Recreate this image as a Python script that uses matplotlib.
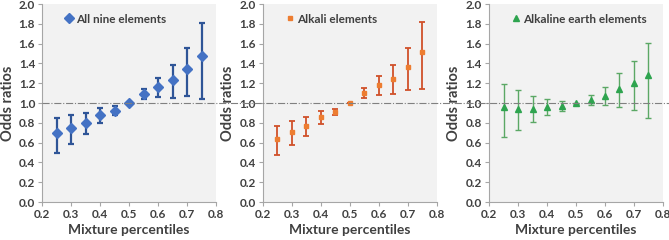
import matplotlib.pyplot as plt
from matplotlib.lines import Line2D
from matplotlib.transforms import blended_transform_factory

plt.rcParams['font.family'] = ['Lato', 'DejaVu Sans']

percentiles = [0.25, 0.30, 0.35, 0.40, 0.45, 0.50, 0.55, 0.60, 0.65, 0.70, 0.75]

# odds ratio, upper CI, lower CI
all_or = [0.70, 0.75, 0.80, 0.88, 0.92, 1.00, 1.09, 1.16, 1.23, 1.34, 1.48]
all_hi = [0.85, 0.88, 0.90, 0.95, 0.97, 1.00, 1.14, 1.25, 1.38, 1.56, 1.81]
all_lo = [0.50, 0.59, 0.69, 0.80, 0.88, 1.00, 1.04, 1.06, 1.05, 1.07, 1.04]

alk_or = [0.64, 0.71, 0.77, 0.86, 0.91, 1.00, 1.10, 1.18, 1.24, 1.36, 1.52]
alk_hi = [0.77, 0.82, 0.86, 0.92, 0.94, 1.00, 1.15, 1.27, 1.38, 1.56, 1.82]
alk_lo = [0.48, 0.58, 0.67, 0.79, 0.88, 1.00, 1.05, 1.08, 1.09, 1.13, 1.14]

ear_or = [0.96, 0.94, 0.94, 0.96, 0.97, 1.00, 1.03, 1.07, 1.14, 1.20, 1.28]
ear_hi = [1.19, 1.13, 1.07, 1.04, 1.02, 1.00, 1.08, 1.16, 1.30, 1.43, 1.61]
ear_lo = [0.66, 0.73, 0.81, 0.88, 0.92, 0.99, 0.98, 0.98, 0.96, 0.93, 0.85]

panels = [
    ("All nine elements", all_or, all_hi, all_lo, "D", 5, "#4472C4", "#2F5597", 1.6),
    ("Alkali elements", alk_or, alk_hi, alk_lo, "s", 3.5, "#ED7D31", "#D0512A", 1.3),
    ("Alkaline earth elements", ear_or, ear_hi, ear_lo, "^", 4.5, "#2EA44F", "#5BA865", 1.0),
]
lefts = [0.063, 0.393, 0.731]
width = 0.260
bottom, top = 0.158, 0.983

fig = plt.figure(figsize=(6.69, 2.4), dpi=100)
axes = []
for (label, val, hi, lo, mk, ms, mc, ec, lw), left in zip(panels, lefts):
    ax = fig.add_axes([left, bottom, width, top - bottom])
    axes.append(ax)
    ax.set_facecolor("#F2F2F2")
    yerr = [[v - l for v, l in zip(val, lo)], [h - v for v, h in zip(val, hi)]]
    ax.errorbar(percentiles, val, yerr=yerr, fmt="none", ecolor=ec,
                elinewidth=lw, capsize=2.5, capthick=lw, zorder=2)
    ax.plot(percentiles, val, linestyle="none", marker=mk, markersize=ms,
            color=mc, label=label, zorder=3)
    ax.set_xlim(0.2, 0.8)
    ax.set_ylim(0.0, 2.0)
    ax.set_xticks([0.2, 0.3, 0.4, 0.5, 0.6, 0.7, 0.8])
    ax.set_yticks([0.0, 0.2, 0.4, 0.6, 0.8, 1.0, 1.2, 1.4, 1.6, 1.8, 2.0])
    ax.xaxis.set_major_formatter(lambda v, p: f"{v:.1f}")
    ax.yaxis.set_major_formatter(lambda v, p: f"{v:.1f}")
    for side in ("top", "right"):
        ax.spines[side].set_visible(False)
    for side in ("left", "bottom"):
        ax.spines[side].set_color("#A6A6A6")
        ax.spines[side].set_linewidth(0.8)
    ax.tick_params(direction="out", length=3, width=0.8, color="#A6A6A6",
                   labelsize=8.5, labelcolor="#404040", pad=2)
    for t in ax.get_xticklabels() + ax.get_yticklabels():
        t.set_fontweight("bold")
    ax.set_xlabel("Mixture percentiles", fontsize=10, fontweight="bold",
                  color="#404040", labelpad=3)
    ax.set_ylabel("Odds ratios", fontsize=10.5, fontweight="bold",
                  color="#404040", labelpad=3)
    leg = ax.legend(loc="upper left", frameon=False, handlelength=0.6,
                    handletextpad=0.3, borderaxespad=0.4,
                    prop={"weight": "bold", "size": 8.5},
                    bbox_to_anchor=(0.08, 1.0))
    for t in leg.get_texts():
        t.set_color("#404040")

# reference line at odds ratio 1.0 spanning all panels
trans = blended_transform_factory(fig.transFigure, axes[0].transData)
fig.add_artist(Line2D([lefts[0], 1.0], [1.0, 1.0], transform=trans,
                      color="#808080", linestyle="-.", linewidth=0.8,
                      zorder=1))

fig.savefig("out.png", dpi=100)
